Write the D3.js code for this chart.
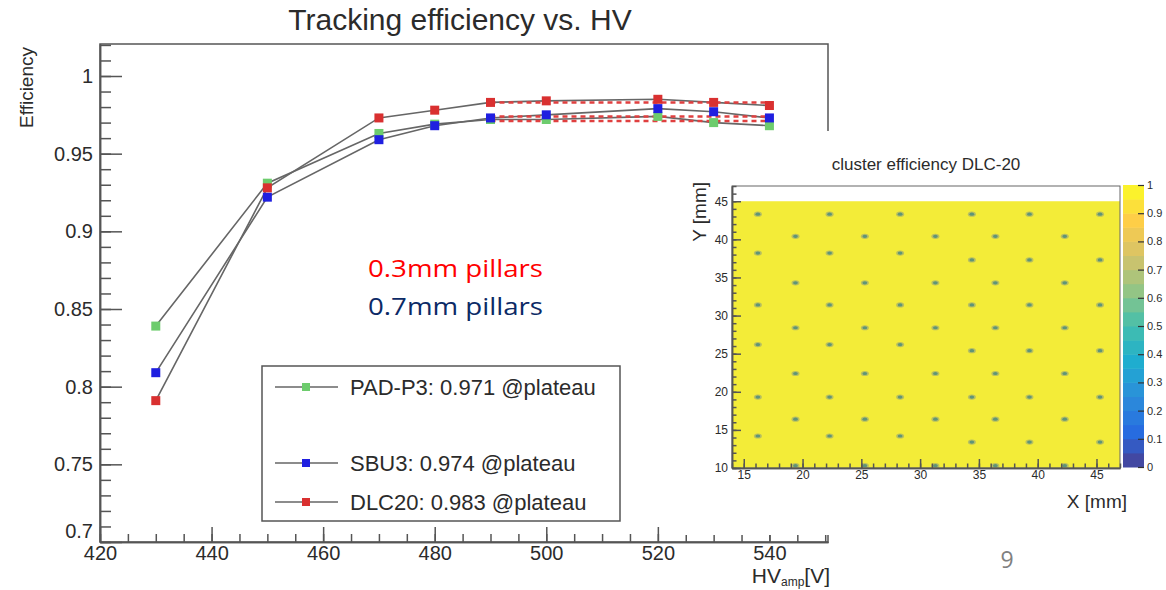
<!DOCTYPE html>
<html>
<head>
<meta charset="utf-8">
<script src="https://cdn.jsdelivr.net/npm/d3@7"></script>
<style>
  body { margin: 0; background: #fff; }
  text { font-family: "Liberation Sans", Arial, Helvetica, sans-serif; fill: #2b2b2b; }
</style>
</head>
<body>
<div id="chart"></div>
<script>
// values
var hv = [430, 450, 470, 480, 490, 500, 520, 530, 540];
var effPAD = [0.839, 0.931, 0.963, 0.969, 0.972, 0.972, 0.974, 0.970, 0.968];
var effSBU = [0.809, 0.922, 0.959, 0.968, 0.973, 0.975, 0.979, 0.977, 0.973];
var effDLC = [0.791, 0.928, 0.973, 0.978, 0.983, 0.984, 0.985, 0.983, 0.981];
var seriesNames = ["PAD-P3", "SBU3", "DLC20"];
var plateau = [0.971, 0.974, 0.983];
var plateauHV = [490, 540];
var xTicks = [420, 440, 460, 480, 500, 520, 540];
var yTicks = [0.7, 0.75, 0.8, 0.85, 0.9, 0.95, 1];

// inset: pillar positions in mm
var pillarColsA = [16.2, 22.3, 28.3, 34.4, 39.3, 45.3];
var pillarColsB = [19.4, 25.3, 31.3, 36.4, 42.3];
var rowsALeft = [43.3, 38.2, 31.4, 26.2, 19.3, 14.2];
var rowsARight = [43.3, 37.3, 31.4, 25.4, 19.3, 13.4];
var rowsB = [40.4, 34.3, 28.4, 22.4, 16.4, 10.3];
var zStops = [0, 0.125, 0.25, 0.375, 0.5, 0.625, 0.75, 0.875, 1];
var birdColors = ["#352a87", "#0f5cdd", "#1481d6", "#06a4ca", "#2eb7a4", "#87bf77", "#d1bb59", "#fec832", "#f9fb0e"];

var colors = ["#6dcc6d", "#1f1fe0", "#d93030"];
var allSeries = [effPAD, effSBU, effDLC];

var svg = d3.select("#chart")
  .append("svg")
    .attr("width", 1166)
    .attr("height", 590);

var x = d3.scaleLinear().domain([420, 550.5]).range([100, 828]);
var y = d3.scaleLinear().domain([0.7, 1.0206]).range([542, 44]);

function styleAxis(g, size) {
  g.selectAll("path, line").attr("stroke", "#555").attr("stroke-width", 1.5);
  g.selectAll("text").style("font-size", size + "px").style("fill", "#2b2b2b")
    .style("font-family", '"Liberation Sans", Arial, sans-serif');
}

// frame
svg.append("rect")
  .attr("x", 100).attr("y", 44)
  .attr("width", 728).attr("height", 498)
  .attr("fill", "none").attr("stroke", "#555").attr("stroke-width", 1.5);

// X axis, minor then major
svg.append("g")
  .attr("transform", "translate(0,542)")
  .call(d3.axisBottom(x).ticks(26).tickSize(-8).tickSizeOuter(0).tickFormat(""))
  .call(styleAxis, 20);
svg.append("g")
  .attr("transform", "translate(0,542)")
  .call(d3.axisBottom(x).tickValues(xTicks).tickSize(-15).tickSizeOuter(0).tickPadding(4))
  .call(styleAxis, 20);

// Y axis
svg.append("g")
  .attr("transform", "translate(100,0)")
  .call(d3.axisLeft(y).ticks(32).tickSize(-11).tickSizeOuter(0).tickFormat(""))
  .call(styleAxis, 20);
var yAxis = svg.append("g")
  .attr("transform", "translate(100,0)")
  .call(d3.axisLeft(y).tickValues(yTicks).tickSize(-22).tickSizeOuter(0).tickPadding(7)
    .tickFormat(d3.format("~g")))
  .call(styleAxis, 20);
// lowest label sits just above the 420 label
yAxis.selectAll("text").filter(function(d) { return d === 0.7; }).attr("dy", "-0.25em");

// lines
var line = d3.line()
  .x(function(d, i) { return x(hv[i]) })
  .y(function(d) { return y(d) });

allSeries.forEach(function(s, k) {
  svg.append("path")
    .datum(s)
    .attr("fill", "none")
    .attr("stroke", "#666")
    .attr("stroke-width", 1.6)
    .attr("d", line);
});

// plateau fits
svg.append("g")
  .selectAll("line")
  .data(plateau)
  .enter()
  .append("line")
    .attr("x1", x(plateauHV[0]))
    .attr("x2", x(plateauHV[1]))
    .attr("y1", function(d) { return y(d) })
    .attr("y2", function(d) { return y(d) })
    .attr("stroke", "#e04040")
    .attr("stroke-width", 2.5)
    .attr("stroke-dasharray", "5,4");

// markers
allSeries.forEach(function(s, k) {
  svg.append("g")
    .selectAll("rect")
    .data(s)
    .enter()
    .append("rect")
      .attr("x", function(d, i) { return x(hv[i]) - 4.5 })
      .attr("y", function(d) { return y(d) - 4.5 })
      .attr("width", 9)
      .attr("height", 9)
      .attr("fill", colors[k]);
});

// title + axis titles
svg.append("text")
  .attr("x", 460).attr("y", 30)
  .attr("text-anchor", "middle")
  .style("font-size", "30px")
  .text("Tracking efficiency vs. HV");

svg.append("text")
  .attr("transform", "translate(33,47) rotate(-90)")
  .attr("text-anchor", "end")
  .style("font-size", "19px")
  .text("Efficiency");

var hvLabel = svg.append("text")
  .attr("x", 830).attr("y", 583)
  .attr("text-anchor", "end")
  .style("font-size", "21px");
hvLabel.append("tspan").text("HV");
hvLabel.append("tspan").attr("dy", 3).style("font-size", "12px").text("amp");
hvLabel.append("tspan").attr("dy", -3).text("[V]");

// legend
var legendY = [387, 463, 502];
svg.append("rect")
  .attr("x", 262).attr("y", 366)
  .attr("width", 358).attr("height", 155)
  .attr("fill", "white").attr("stroke", "#555").attr("stroke-width", 1.5);

seriesNames.forEach(function(name, k) {
  var ly = legendY[k];
  svg.append("line")
    .attr("x1", 275).attr("x2", 338)
    .attr("y1", ly).attr("y2", ly)
    .attr("stroke", "#666").attr("stroke-width", 1.6);
  svg.append("rect")
    .attr("x", 302).attr("y", ly - 4)
    .attr("width", 8).attr("height", 8)
    .attr("fill", colors[k]);
  svg.append("text")
    .attr("x", 350).attr("y", ly + 8)
    .style("font-size", "22px")
    .text(name + ": " + d3.format(".3f")(plateau[k]) + " @plateau");
});

// annotations
svg.append("text")
  .attr("x", 368).attr("y", 277)
  .attr("textLength", 175).attr("lengthAdjust", "spacingAndGlyphs")
  .style("font-family", '"Open Sans", "Noto Sans", sans-serif')
  .style("font-size", "24px")
  .style("fill", "#ff0000")
  .text("0.3mm pillars");
svg.append("text")
  .attr("x", 368).attr("y", 315)
  .attr("textLength", 175).attr("lengthAdjust", "spacingAndGlyphs")
  .style("font-family", '"Open Sans", "Noto Sans", sans-serif')
  .style("font-size", "24px")
  .style("fill", "#0c2a66")
  .text("0.7mm pillars");

// ---------- inset heatmap ----------
svg.append("rect")
  .attr("x", 660).attr("y", 131)
  .attr("width", 506).attr("height", 404)
  .attr("fill", "white");

var hx = d3.scaleLinear().domain([14, 47]).range([732, 1120]);
var hy = d3.scaleLinear().domain([10, 47]).range([468, 186]);
var zColor = d3.scaleLinear().domain(zStops).range(birdColors);

svg.append("text")
  .attr("x", 926).attr("y", 170)
  .attr("text-anchor", "middle")
  .style("font-size", "17px")
  .text("cluster efficiency DLC-20");

svg.append("rect")
  .attr("x", hx(14)).attr("y", hy(45))
  .attr("width", hx(47) - hx(14))
  .attr("height", hy(10) - hy(45))
  .attr("fill", "#f3ec38");

var pillars = [];
pillarColsA.forEach(function(px, j) {
  rowsALeft.forEach(function(r, i) {
    pillars.push({ x: px, y: j < 3 ? r : rowsARight[i] });
  });
});
pillarColsB.forEach(function(px) {
  rowsB.forEach(function(r) { pillars.push({ x: px, y: r }); });
});

svg.append("g")
  .selectAll("ellipse")
  .data(pillars)
  .enter()
  .append("ellipse")
    .attr("cx", function(d) { return hx(d.x) })
    .attr("cy", function(d) { return hy(d.y) })
    .attr("rx", 4)
    .attr("ry", 2.6)
    .attr("fill", "#b9c060");
svg.append("g")
  .selectAll("ellipse")
  .data(pillars)
  .enter()
  .append("ellipse")
    .attr("cx", function(d) { return hx(d.x) })
    .attr("cy", function(d) { return hy(d.y) })
    .attr("rx", 2.4)
    .attr("ry", 1.6)
    .attr("fill", "#5f9478");

svg.append("rect")
  .attr("x", hx(14)).attr("y", hy(47))
  .attr("width", hx(47) - hx(14))
  .attr("height", hy(10) - hy(47))
  .attr("fill", "none").attr("stroke", "#666").attr("stroke-width", 1);

svg.append("g")
  .attr("transform", "translate(" + hx(14) + ",0)")
  .call(d3.axisLeft(hy).ticks(37).tickSize(-4.5).tickSizeOuter(0).tickFormat(""))
  .call(styleAxis, 12);
svg.append("g")
  .attr("transform", "translate(" + hx(14) + ",0)")
  .call(d3.axisLeft(hy).ticks(8).tickSize(-9).tickSizeOuter(0).tickPadding(4))
  .call(styleAxis, 12);
svg.append("g")
  .attr("transform", "translate(0," + hy(10) + ")")
  .call(d3.axisBottom(hx).ticks(33).tickSize(-4.5).tickSizeOuter(0).tickFormat(""))
  .call(styleAxis, 12);
svg.append("g")
  .attr("transform", "translate(0," + hy(10) + ")")
  .call(d3.axisBottom(hx).ticks(7).tickSize(-9).tickSizeOuter(0).tickPadding(2))
  .call(styleAxis, 12);

svg.append("text")
  .attr("transform", "translate(706,182) rotate(-90)")
  .attr("text-anchor", "end")
  .style("font-size", "19px")
  .text("Y [mm]");
svg.append("text")
  .attr("x", 1127).attr("y", 508)
  .attr("text-anchor", "end")
  .style("font-size", "19px")
  .text("X [mm]");

// colour bar
var cz = d3.scaleLinear().domain([0, 1]).range([467, 185]);
var bands = d3.range(20).map(function(i) { return i / 20; });
svg.append("g")
  .selectAll("rect")
  .data(bands)
  .enter()
  .append("rect")
    .attr("x", 1123)
    .attr("y", function(d) { return cz(d + 0.05) })
    .attr("width", 21)
    .attr("height", function(d) { return cz(d) - cz(d + 0.05) + 0.5 })
    .attr("fill", function(d) { return d3.interpolateRgb(zColor(d + 0.025), "#fff")(0.1) });

var cbar = svg.append("g")
  .attr("transform", "translate(1144,0)")
  .call(d3.axisRight(cz).ticks(10).tickSize(-6).tickSizeOuter(0).tickPadding(3).tickFormat(d3.format("~g")))
  .call(styleAxis, 11);
cbar.select(".domain").remove();
cbar.selectAll("line").attr("stroke", "#333").attr("stroke-width", 1.2);

// page number
svg.append("text")
  .attr("x", 1007).attr("y", 568)
  .attr("text-anchor", "middle")
  .style("font-family", '"Open Sans", "Noto Sans", sans-serif')
  .style("font-size", "23px")
  .style("fill", "#808080")
  .text("9");
</script>
</body>
</html>
